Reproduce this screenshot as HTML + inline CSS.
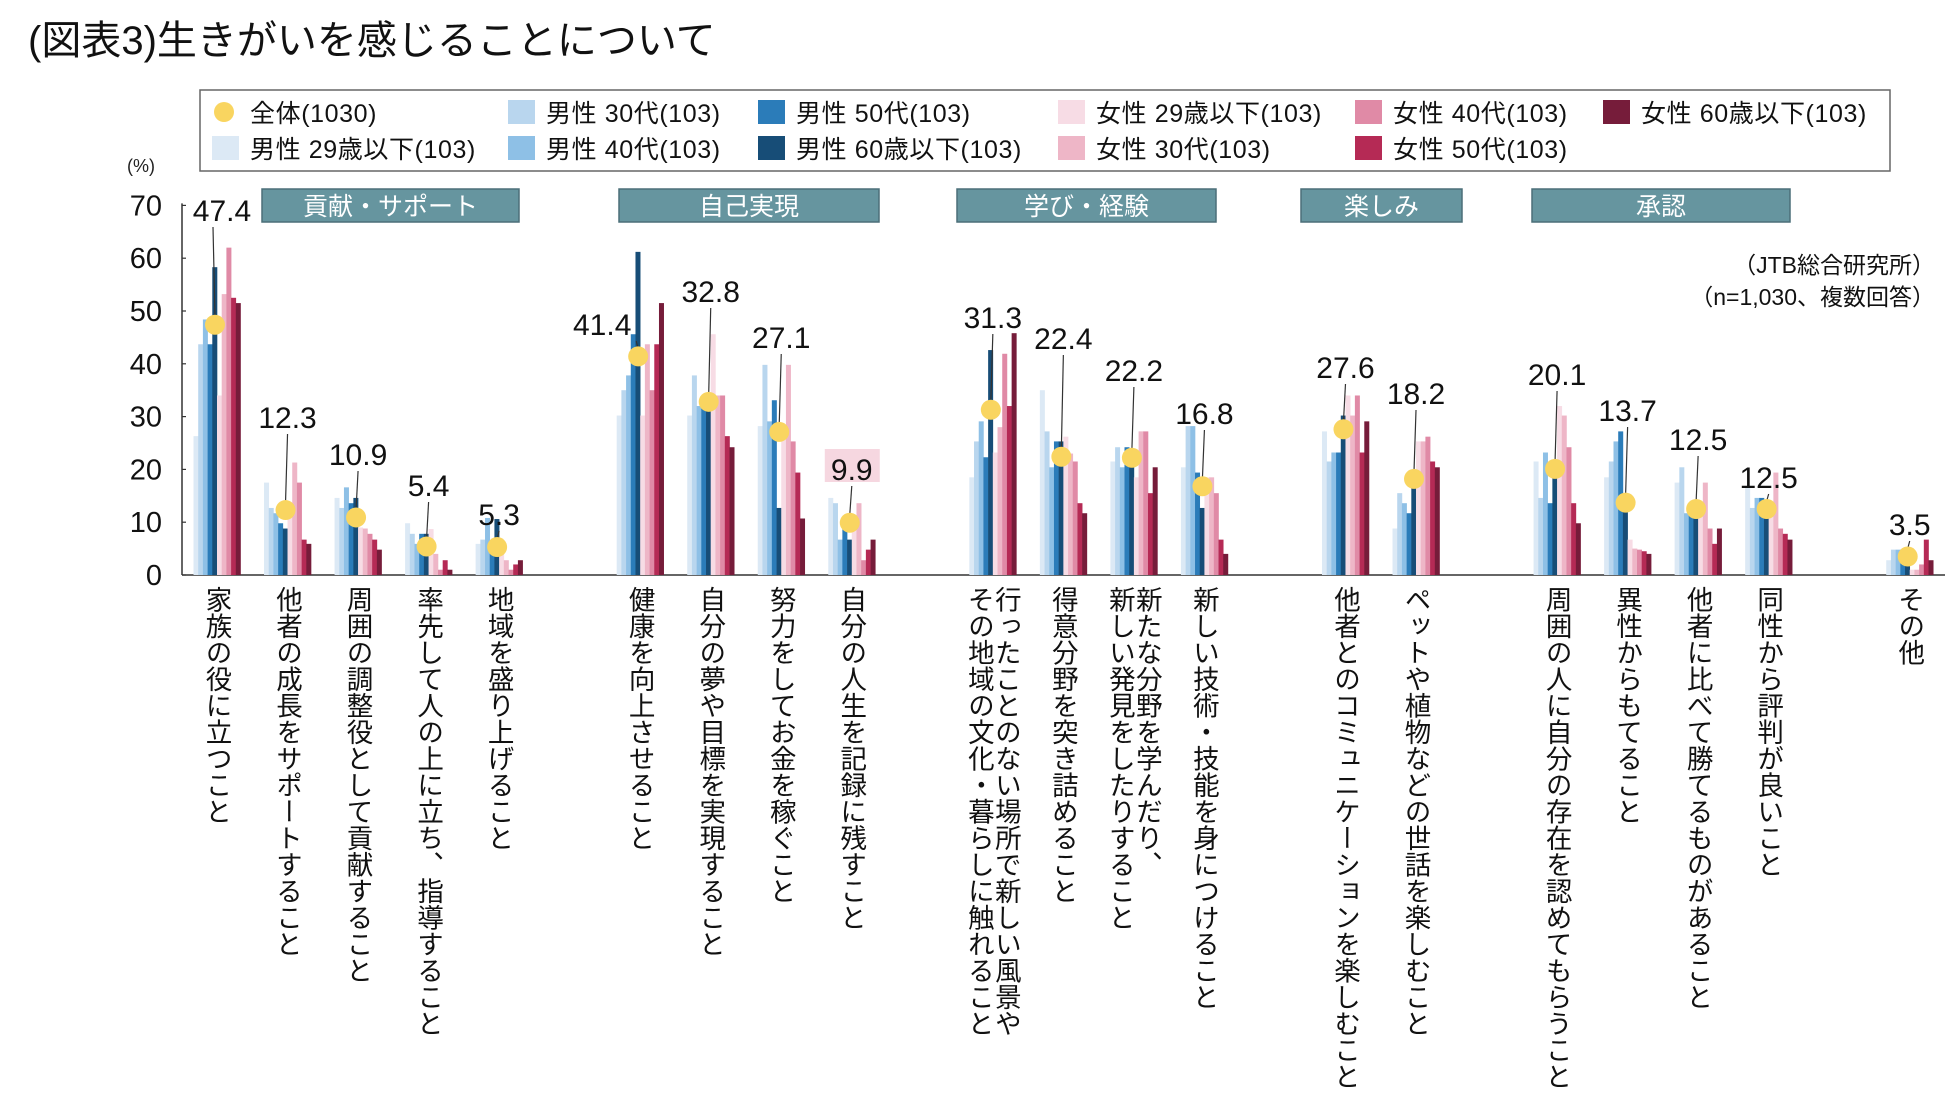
<!DOCTYPE html>
<html><head><meta charset="utf-8">
<style>
body{margin:0;background:#fff;}
#wrap{position:relative;width:1950px;height:1105px;overflow:hidden;background:#fff;font-family:"Liberation Sans","Noto Sans CJK JP",sans-serif;}
.vlab{position:absolute;top:586px;writing-mode:vertical-rl;font-size:26.5px;line-height:27px;color:#111;font-family:"Liberation Sans","Noto Sans CJK JP",sans-serif;white-space:nowrap;transform:translateX(-50%);}
svg text{font-family:"Liberation Sans","Noto Sans CJK JP",sans-serif;}
</style></head>
<body>
<div id="wrap">
<svg id="chart" width="1950" height="1105">
<text x="28" y="54" font-size="40" fill="#111">(図表3)生きがいを感じることについて</text>
<rect x="200" y="90" width="1690" height="81" fill="#fff" stroke="#666" stroke-width="1.5"/>
<g id="legend"></g>
<text x="1935" y="273" font-size="23" text-anchor="end" fill="#111">（JTB総合研究所）</text>
<text x="1935" y="305" font-size="23" text-anchor="end" fill="#111">（n=1,030、複数回答）</text>
<text x="127" y="172" font-size="18" fill="#222">(%)</text>
<g id="groups"></g>
<g id="axes"></g>
<g id="bars"></g>
<g id="labels"></g>
</svg>
</div>
<script>
const categories = ["家族の役に立つこと","他者の成長をサポートすること","周囲の調整役として貢献すること","率先して人の上に立ち、指導すること","地域を盛り上げること","健康を向上させること","自分の夢や目標を実現すること","努力をしてお金を稼ぐこと","自分の人生を記録に残すこと","行ったことのない場所で新しい風景や|その地域の文化・暮らしに触れること","得意分野を突き詰めること","新たな分野を学んだり、|新しい発見をしたりすること","新しい技術・技能を身につけること","他者とのコミュニケーションを楽しむこと","ペットや植物などの世話を楽しむこと","周囲の人に自分の存在を認めてもらうこと","異性からもてること","他者に比べて勝てるものがあること","同性から評判が良いこと","その他"];
const slots = [0,1,2,3,4,6,7,8,9,11,12,13,14,16,17,19,20,21,22,24];
const seriesNames = ["男性 29歳以下(103)","男性 30代(103)","男性 40代(103)","男性 50代(103)","男性 60歳以下(103)","女性 29歳以下(103)","女性 30代(103)","女性 40代(103)","女性 50代(103)","女性 60歳以下(103)"];
const total = [47.4,12.3,10.9,5.4,5.3,41.4,32.8,27.1,9.9,31.3,22.4,22.2,16.8,27.6,18.2,20.1,13.7,12.5,12.5,3.5];
const m29 = [26.3,17.5,14.6,9.8,5.9,30.2,30.2,28.2,14.6,18.5,35,21.5,20.4,27.2,8.8,21.5,18.5,17.5,16.6,2.8];
const m30 = [43.7,12.7,12.7,7.8,6.7,35,37.8,39.8,13.6,25.3,27.2,24.2,28.2,21.5,15.5,14.6,21.5,20.4,12.7,4.8];
const m40 = [48.4,11.7,16.6,5.9,10.8,37.8,32,29.1,6.7,29.1,20.4,20.4,28.2,23.2,13.6,23.2,25.3,11.7,14.6,4.8];
const m50 = [43.7,9.8,13.6,7.8,5.9,45.6,32,33.1,9.7,22.3,25.3,24.2,19.4,23.2,11.7,13.6,27.2,11.7,14.6,4.8];
const m60 = [58.3,8.8,14.6,7.8,10.6,61.2,33,12.7,6.7,42.6,25.3,23,12.7,30.2,16.6,18.5,15,10.7,12.7,2.8];
const f29 = [34,12,9,8.7,4,30.2,45.6,27,9,23.2,26.2,18.5,18.5,34,25.3,32,6.7,12,12,1];
const f30 = [53.2,21.3,8.8,4,2.8,43.7,34,39.8,13.6,28,23,27.2,18.5,30.2,25.3,30.2,5,17.5,19.4,1];
const f40 = [62,17.5,7.8,1,1,35,34,25.3,2.8,41.9,21.5,27.2,15.5,34,26.2,24.2,4.8,8.8,8.8,2];
const f50 = [52.5,6.7,6.7,2.8,2,43.7,26.3,19.4,4.8,32,13.6,15.5,6.7,23.2,21.5,13.6,4.5,5.9,7.8,6.7];
const f60 = [51.5,5.9,4.8,1,2.8,51.5,24.2,10.7,6.7,45.8,11.7,20.4,4,29.1,20.4,9.8,4,8.8,6.7,2.8];
const series = [m29,m30,m40,m50,m60,f29,f30,f40,f50,f60];
const yTicks = [0,10,20,30,40,50,60,70];
const groupNames = ["貢献・サポート","自己実現","学び・経験","楽しみ","承認"];

const colors = ["#dce9f5","#b9d6ee","#8ec0e6","#2b7cb9","#174d77","#f7dce5","#eeb6c7","#e08aa6","#b52a55","#761c3a"];
const NS="http://www.w3.org/2000/svg";
const X0=217, SLOT=70.53, Y0=575, PER=5.28, BW=4.7;
function xPos(i){return X0+slots[i]*SLOT;}
function yPos(v){return Y0-v*PER;}
function mk(tag,attrs,parent){const e=document.createElementNS(NS,tag);for(const k in attrs)e.setAttribute(k,attrs[k]);parent.appendChild(e);return e;}

const axes=document.getElementById('axes');
const yl=mk('line',{x1:182,y1:yPos(70)-2,x2:182,y2:Y0,stroke:'#333','stroke-width':1.5},axes);


const xl=mk('line',{x1:182,y1:Y0,x2:1945,y2:Y0,stroke:'#333','stroke-width':1.5},axes);


yTicks.forEach(t=>{
  const tk=mk('line',{x1:182,y1:yPos(t),x2:186,y2:yPos(t),stroke:'#333','stroke-width':1.2},axes);
  
  
  const tl=mk('text',{x:162,y:yPos(t)+10,'font-size':29,'text-anchor':'end',fill:'#111'},axes);
  tl.textContent=t;
  
  
});

const gBoxes=[[262,519],[619,879],[957,1216],[1301,1462],[1532,1790]];
const groups=document.getElementById('groups');
groupNames.forEach((g,i)=>{
  const r=mk('rect',{x:gBoxes[i][0],y:189,width:gBoxes[i][1]-gBoxes[i][0],height:33,fill:'#66959f',stroke:'#4b6f78','stroke-width':1.5},groups);
  
  
  const t=mk('text',{x:(gBoxes[i][0]+gBoxes[i][1])/2,y:215,'font-size':25,'text-anchor':'middle',fill:'#fff'},groups);
  t.textContent=g;
  
  
});

const bars=document.getElementById('bars');
categories.forEach((c,i)=>{
  const cx=xPos(i);
  series.forEach((s,j)=>{
    const v=s[i];
    const b=mk('rect',{x:cx-23.5+j*BW,y:yPos(v),width:BW+0.3,height:v*PER,fill:colors[j]},bars);
    
    
  });
});

const labelTop=[221,428,465,496,525,335,302,348,480,328,349,381,424,378,404,385,421,450,488,535];
const labelDx=[5,0,0,0,0,-38,0,0,0,0,0,0,0,0,0,0,0,0,0,0];
const labels=document.getElementById('labels');
categories.forEach((c,i)=>{
  const cx=xPos(i), cy=yPos(total[i]);
  const lx=cx+labelDx[i];
  if(i===8){
    const bg=mk('rect',{x:lx-27,y:labelTop[i]-31,width:55,height:33,fill:'#f6d7e0'},labels);
    
    
  }
  const ln=mk('line',{x1:lx===cx?cx:cx-4,y1:labelTop[i]+6,x2:cx-2,y2:cy-8,stroke:'#333','stroke-width':1.2},labels);
  
  
  const t=mk('text',{x:lx,y:labelTop[i],'font-size':30,'text-anchor':'middle',fill:'#111'},labels);
  t.textContent=total[i].toFixed(1);
  
  
  const d=mk('circle',{cx:cx-2,cy:cy,r:10,fill:'#f9d560'},labels);
  
  
});

const legend=document.getElementById('legend');
const lp=[[212,114,-1],[212,150,0],[508,114,1],[508,150,2],[758,114,3],[758,150,4],[1058,114,5],[1058,150,6],[1355,114,7],[1355,150,8],[1603,114,9]];
lp.forEach(p=>{
  if(p[2]<0){
    const c=mk('circle',{cx:p[0]+12,cy:p[1]-2,r:10,fill:'#f9d560'},legend);
    
    
  } else {
    const r=mk('rect',{x:p[0],y:p[1]-14,width:27,height:24,fill:colors[p[2]]},legend);
    
    
  }
  const t=mk('text',{x:p[0]+38,y:p[1]+8,'font-size':25,'letter-spacing':0.6,fill:'#111'},legend);
  t.textContent=p[2]<0?"全体(1030)":seriesNames[p[2]];
  
  
});

const wrap=document.getElementById('wrap');
categories.forEach((c,i)=>{
  const d=document.createElement('div');
  d.className='vlab';
  d.style.left=(xPos(i)-1)+'px';
  d.innerHTML=c.split('|').join('<br>');
  
  
  wrap.appendChild(d);
});
</script>
</body></html>
